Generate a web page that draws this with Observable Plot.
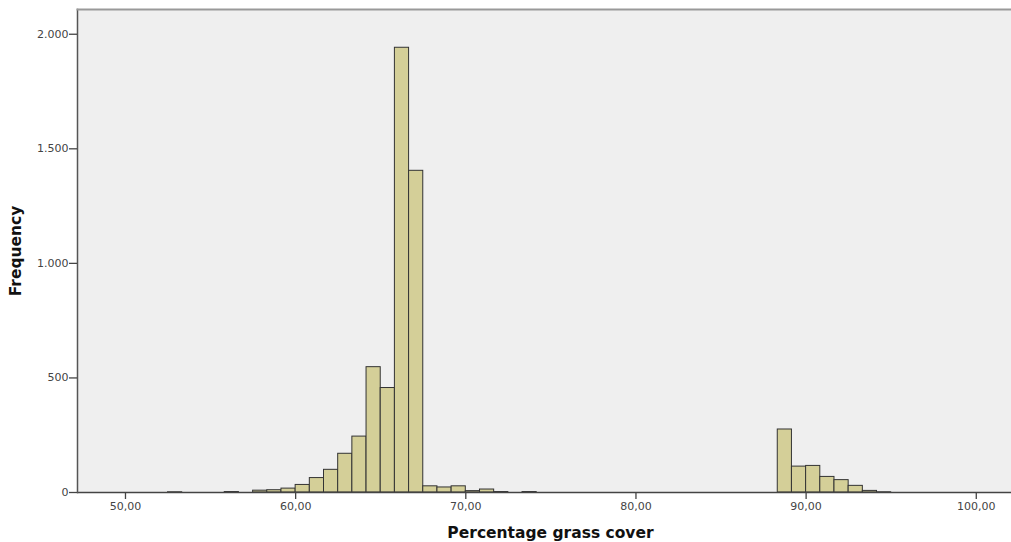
<!DOCTYPE html>
<html>
<head>
<meta charset="utf-8">
<script src="https://cdn.jsdelivr.net/npm/d3@7"></script>
<script src="https://cdn.jsdelivr.net/npm/@observablehq/plot@0.6"></script>
<style>
  html, body { margin: 0; padding: 0; background: #ffffff; }
  #chart svg { display: block; }
</style>
</head>
<body>
<div id="chart"></div>
<script>
// Histogram bins: lower edge of each bin (bin width 5/6) and its frequency
const binWidth = 5 / 6;
const binLower = [52.5, 55.8333, 57.5, 58.3333, 59.1667, 60, 60.8333, 61.6667, 62.5, 63.3333,
  64.1667, 65, 65.8333, 66.6667, 67.5, 68.3333, 69.1667, 70, 70.8333, 71.6667, 73.3333,
  88.3333, 89.1667, 90, 90.8333, 91.6667, 92.5, 93.3333, 94.1667];
const frequency = [1, 2, 8, 10, 17, 33, 63, 99, 169, 244,
  547, 456, 1941, 1404, 27, 22, 27, 6, 13, 2, 2,
  275, 113, 116, 68, 54, 29, 7, 1];

const xTicks = [50, 60, 70, 80, 90, 100];
const yTicks = [0, 500, 1000, 1500, 2000];
const xTitle = "Percentage grass cover";
const yTitle = "Frequency";

const bins = binLower.map((lo, i) => ({x1: lo, x2: lo + binWidth, count: frequency[i]}));

const locale = d3.formatLocale({decimal: ",", thousands: ".", grouping: [3], currency: ["", ""]});
const fmtY = locale.format(",");
const fmtX = locale.format(",.2f");

const font = "'DejaVu Sans', 'Liberation Sans', sans-serif";

const chart = Plot.plot({
  width: 1011,
  height: 542,
  marginLeft: 77,
  marginRight: 0,
  marginTop: 9,
  marginBottom: 50,
  style: {fontFamily: font, fontSize: "11px", color: "#444", background: "#ffffff", overflow: "visible"},
  x: {domain: [47.18, 102.07]},
  y: {domain: [0, 2108]},
  marks: [
    Plot.frame({fill: "#efefef", stroke: null}),
    Plot.rectY(bins, {x1: "x1", x2: "x2", y: "count", fill: "#d4cf98", stroke: "#333", strokeWidth: 1, inset: 0}),
    Plot.ruleY([0], {stroke: "#444", strokeWidth: 1.3}),
    Plot.frame({anchor: "left", stroke: "#555", strokeWidth: 1.5}),
    Plot.frame({anchor: "top", stroke: "#999", strokeWidth: 2}),
    Plot.axisX({ticks: xTicks, tickFormat: fmtX, tickSize: 7, tickPadding: 3, stroke: "#444", strokeWidth: 1.3, fill: "#444", label: null}),
    Plot.axisY({ticks: yTicks, tickFormat: fmtY, tickSize: 8, tickPadding: 1, stroke: "#444", strokeWidth: 1.3, fill: "#444", label: null}),
    Plot.text([xTitle], {frameAnchor: "bottom", dy: 45, dx: 6, fontSize: 15.5, fontWeight: "bold", fill: "#111", fontFamily: font}),
    Plot.text([yTitle], {frameAnchor: "left", dx: -61, textAnchor: "middle", rotate: -90, fontSize: 15.5, fontWeight: "bold", fill: "#111", fontFamily: font})
  ]
});
document.getElementById("chart").appendChild(chart);
</script>
</body>
</html>
